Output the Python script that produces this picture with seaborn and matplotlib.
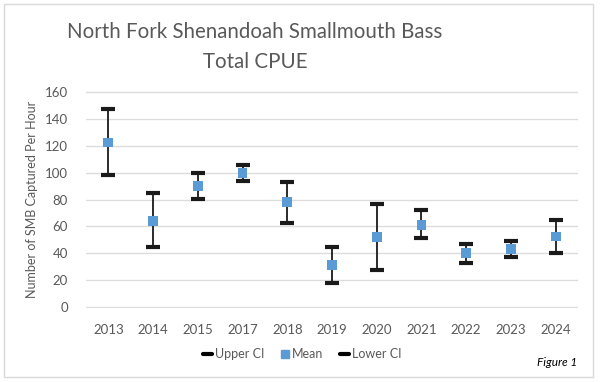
import pandas as pd
import matplotlib
matplotlib.use("Agg")
import matplotlib.pyplot as plt
from matplotlib.lines import Line2D
from matplotlib.patches import Rectangle
import seaborn as sns

years = ["2013", "2014", "2015", "2017", "2018", "2019", "2020", "2021", "2022", "2023", "2024"]
mean_cpue = [122.5, 64, 90, 100, 78, 31.5, 52, 61, 40, 43, 52.5]
upper_ci = [147.5, 84.5, 99.5, 106, 93, 45, 77, 72.5, 46.5, 49, 64.5]
lower_ci = [98, 44.5, 80.5, 94, 62.5, 18, 27.5, 51, 33, 37.5, 40.5]

df = pd.DataFrame({"Year": years, "Mean": mean_cpue, "Upper": upper_ci, "Lower": lower_ci})

sns.set_style("white")
plt.rcParams["font.family"] = ["Lato", "DejaVu Sans"]

grey = "#595959"
blue = "#5B9BD5"

fig = plt.figure(figsize=(6, 3.82), dpi=100)
fig.patches.append(Rectangle((4 / 600, 1 - 377 / 382), 589 / 600, 373 / 382,
                             transform=fig.transFigure, fill=False,
                             edgecolor="#d9d9d9", linewidth=1))

ax = fig.add_axes([86 / 600, 1 - 308.3 / 382, 492 / 600, 217.6 / 382])

x = range(len(df))
ax.errorbar(x, df["Mean"],
            yerr=[df["Mean"] - df["Lower"], df["Upper"] - df["Mean"]],
            fmt="none", ecolor="#1a1a1a", elinewidth=1.3, capsize=5, capthick=3, zorder=2)
sns.scatterplot(data=df, x="Year", y="Mean", marker="s", s=50, color=blue,
                edgecolor="none", ax=ax, zorder=3, legend=False)

ax.set_xlim(-0.5, len(df) - 0.5)
ax.set_ylim(-1, 161)
ax.set_yticks(range(0, 161, 20))
ax.grid(axis="y", color="#dcdcdc", linewidth=1)
ax.set_axisbelow(True)
for s in ax.spines.values():
    s.set_visible(False)
ax.tick_params(axis="both", length=0, labelsize=9.5, labelcolor=grey)
ax.tick_params(axis="x", pad=11)
ax.tick_params(axis="y", pad=13)
ax.set_xlabel("")
ax.set_ylabel("Number of SMB Captured Per Hour", fontsize=9, color=grey, labelpad=5)

fig.text(255 / 600, 1 - 32 / 382, "North Fork Shenandoah Smallmouth Bass",
         ha="center", va="center", fontsize=14.8, color=grey)
fig.text(255 / 600, 1 - 62 / 382, "Total CPUE",
         ha="center", va="center", fontsize=14.8, color=grey)

handles = [Line2D([], [], color="black", lw=3),
           Line2D([], [], color=blue, marker="s", linestyle="none", markersize=6),
           Line2D([], [], color="black", lw=3)]
leg = fig.legend(handles, ["Upper CI", "Mean", "Lower CI"], loc="center",
                 bbox_to_anchor=(302 / 600, 1 - 354 / 382), ncol=3, frameon=False,
                 fontsize=9, handlelength=0.7, handletextpad=0.25, columnspacing=1.3)
for t in leg.get_texts():
    t.set_color(grey)

fig.text(577 / 600, 1 - 362 / 382, "Figure 1", ha="right", va="center",
         fontsize=8.5, style="italic", color="black")

fig.savefig("out.png", dpi=100)
